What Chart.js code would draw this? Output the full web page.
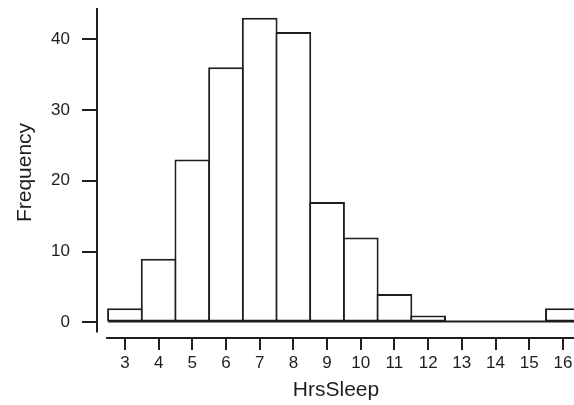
<!DOCTYPE html>
<html>
<head>
<meta charset="utf-8">
<script src="https://cdn.jsdelivr.net/npm/chart.js@4"></script>
<style>
    body { margin: 0; background: #fff; }
    canvas { display: block; }
</style>
</head>
<body>
<canvas id="histChart" width="574" height="405"></canvas>
<script>
// HrsSleep histogram data
const bins = [3, 4, 5, 6, 7, 8, 9, 10, 11, 12, 13, 14, 15, 16];
const counts = [2, 9, 23, 36, 43, 41, 17, 12, 4, 1, 0, 0, 0, 2];
const xTicks = [3, 4, 5, 6, 7, 8, 9, 10, 11, 12, 13, 14, 15, 16];
const yTicks = [0, 10, 20, 30, 40];

const ink = '#1e1e1e';
const family = '"Liberation Sans", Arial, sans-serif';

// Draws the detached axis lines and the zero baseline, Data Desk style
const axisLines = {
    id: 'axisLines',
    afterDatasetsDraw(chart) {
        const { ctx, chartArea, scales } = chart;
        const x = scales.x, y = scales.y;
        const zero = y.getPixelForValue(0);
        const firstEdge = x.getPixelForValue(bins[0] - 0.5);

        ctx.save();
        ctx.strokeStyle = ink;
        ctx.lineWidth = 2;
        ctx.beginPath();
        // y axis
        ctx.moveTo(chartArea.left - 1, chartArea.top);
        ctx.lineTo(chartArea.left - 1, zero + 10);
        // x axis
        ctx.moveTo(firstEdge - 2, chartArea.bottom + 1);
        ctx.lineTo(chartArea.right, chartArea.bottom + 1);
        // baseline of the bars, over the bars' bottom edges
        ctx.moveTo(firstEdge, zero - 1);
        ctx.lineTo(chartArea.right, zero - 1);
        ctx.stroke();
        ctx.restore();
    }
};

const ctx = document.getElementById('histChart');
new Chart(ctx, {
    type: 'bar',
    data: {
        datasets: [{
            // empty bins are left out, only the baseline shows there
            data: bins.map((b, i) => ({ x: b, y: counts[i] || null })),
            backgroundColor: '#fff',
            borderColor: ink,
            borderWidth: 2,
            borderSkipped: false,
            inflateAmount: 0,
            barPercentage: 1.06,
            categoryPercentage: 1
        }]
    },
    options: {
        responsive: false,
        animation: false,
        layout: { padding: { top: 8, right: 0, bottom: 0, left: 0 } },
        plugins: {
            legend: { display: false },
            tooltip: { enabled: false }
        },
        scales: {
            x: {
                type: 'linear',
                offset: false,
                min: 2.2,
                max: 16.33,
                afterBuildTicks: s => { s.ticks = xTicks.map(v => ({ value: v })); },
                afterFit: s => { s.height = 68; s.paddingLeft = 0; s.paddingRight = 0; },
                grid: { offset: false, drawOnChartArea: false, tickLength: 13, color: ink, lineWidth: 2 },
                border: { display: false },
                ticks: { font: { size: 17, family }, color: ink, padding: 3, maxRotation: 0, autoSkip: false },
                title: {
                    display: true, text: 'HrsSleep', color: ink,
                    font: { size: 21, family }, padding: { top: 0, bottom: 2 }
                }
            },
            y: {
                min: -2.05,
                max: 44.37,
                afterBuildTicks: s => { s.ticks = yTicks.map(v => ({ value: v })); },
                afterFit: s => { s.width = 98; s.paddingTop = 0; s.paddingBottom = 0; },
                grid: { drawOnChartArea: false, tickLength: 16, color: ink, lineWidth: 2 },
                border: { display: false },
                ticks: { font: { size: 17, family }, color: ink, padding: 12 },
                title: {
                    display: true, text: 'Frequency', color: ink,
                    font: { size: 21, family }, padding: { top: 13, bottom: 0 }
                }
            }
        }
    },
    plugins: [axisLines]
});
</script>
</body>
</html>
